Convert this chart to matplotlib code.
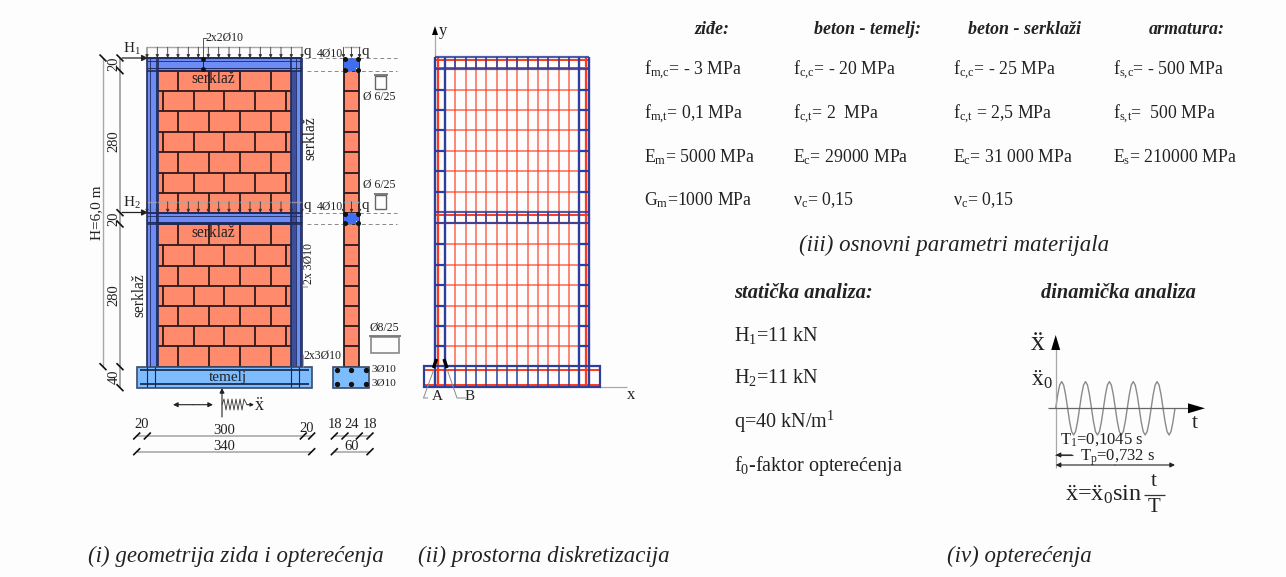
import matplotlib
matplotlib.use("Agg")
import matplotlib.pyplot as plt
from matplotlib.patches import Rectangle, Polygon

SERIF = ['Liberation Serif', 'DejaVu Serif']
plt.rcParams['font.family'] = SERIF
plt.rcParams['mathtext.fontset'] = 'custom'
plt.rcParams['mathtext.rm'] = 'Liberation Serif'
plt.rcParams['mathtext.default'] = 'rm'

# ---- material table ----
heads = ['ziđe:', 'beton - temelj:', 'beton - serklaži', 'armatura:']
head_x = [712, 867, 1024, 1187]
col_x = [644, 793, 953, 1113]
row_y = [70, 114, 157, 200]
col_masonry = ['f$_{m{,}c}$= - 3 MPa', 'f$_{m{,}t}$= 0,1 MPa', 'E$_{m}$= 5000 MPa', 'G$_{m}$=1000 MPa']
col_base = ['f$_{c{,}c}$= - 20 MPa', 'f$_{c{,}t}$= 2  MPa', 'E$_{c}$= 29000 MPa', 'ν$_{c}$= 0,15']
col_belt = ['f$_{c{,}c}$= - 25 MPa', 'f$_{c{,}t}$ = 2,5 MPa', 'E$_{c}$= 31 000 MPa', 'ν$_{c}$= 0,15']
col_steel = ['f$_{s{,}c}$= - 500 MPa', 'f$_{s{,}t}$=  500 MPa', 'E$_{s}$= 210000 MPa']
static_lines = ['H$_{1}$=11 kN', 'H$_{2}$=11 kN', 'q=40 kN/m$^{1}$', 'f$_{0}$-faktor opterećenja']
static_y = [335, 378, 422, 466]

# ---- wall geometry (picture scale) ----
wall_x = (147, 302)
brick_x = (158, 291)
belt_top = (58, 70.7)
belt_mid = (212.7, 224)
base_y = (366.7, 387.7)
base_x = (136.7, 311.7)
upper_rows = [70.7, 91, 111.3, 131.7, 152.3, 172.7, 192.7, 212.7]
lower_rows = [224, 245.3, 265.7, 285.7, 306, 326.3, 346.3, 366.7]
joints_a = [178.3, 209, 240, 271]
joints_b = [162.7, 193.7, 224.3, 255.3, 286.3]
load_x = [147, 157.3, 167.7, 178, 188.3, 198.3, 208.3, 218.7, 229, 239.7, 250, 260.3, 270.7, 281, 291.3, 302]

# ---- mesh geometry ----
mesh_v = [435, 445, 455.3, 465.7, 476, 486.3, 496.7, 507, 517.3, 527.7, 538, 548.3, 558.7, 569, 579, 589]
mesh_h_up = [90, 110.3, 130.3, 151, 171, 191.7]
mesh_h_lo = [244.3, 265, 285.3, 305.7, 325.7, 346]
mesh_base_x = (424.3, 599.7)

# ---- excitation curve (one value per 2 px) ----
wave_a = [0, .5, .87, 1, .87, .5, 0, -.5, -.87, -1, -.87, -.5] * 5 + [0]

BRICK, JOINT = '#ff8a6c', '#2b1a1a'
BELT, BASE = '#6d8cf6', '#7cbcff'
NAVY = '#2d3f9c'
RED = '#ff3a1c'
GREY = '#a9a9a9'
TXT = '#222222'

fig = plt.figure(figsize=(12.86, 5.77), dpi=100, facecolor='#fdfdfd')
ax = fig.add_axes([0, 0, 1, 1])
ax.set_xlim(0, 1286)
ax.set_ylim(577, 0)
ax.axis('off')


def T(x, y, s, size=12, ha='center', va='center', **kw):
    kw.setdefault('color', TXT)
    return ax.text(x, y, s, fontsize=size, ha=ha, va=va, **kw)


def R(x0, y0, x1, y1, fc='none', ec='none', lw=1.0, z=2, alpha=None):
    ax.add_patch(Rectangle((x0, y0), x1 - x0, y1 - y0, fc=fc, ec=ec, lw=lw, zorder=z, alpha=alpha))


def L(xs, ys, c=JOINT, lw=1.0, z=3, **kw):
    ax.plot(xs, ys, color=c, lw=lw, zorder=z, solid_capstyle='butt', **kw)


def arrow(x0, y0, x1, y1, c='#222222', ms=7, lw=0.8, z=5):
    ax.annotate('', xy=(x1, y1), xytext=(x0, y0), zorder=z,
                arrowprops=dict(arrowstyle='-|>', color=c, lw=lw, mutation_scale=ms,
                                shrinkA=0, shrinkB=0))


def head(pts, c='#000000', z=6):
    ax.add_patch(Polygon(pts, fc=c, ec='none', zorder=z))


def tick(x, y, s=3.5, back=False):
    d = -s if back else s
    L([x - s, x + s], [y + d, y - d], c='#111111', lw=1.2, z=6)


# ---------- (i) wall elevation ----------
R(wall_x[0], belt_top[0], wall_x[1], base_y[0], fc=BELT, z=1)
R(brick_x[0], belt_top[1], brick_x[1], belt_mid[0], fc=BRICK, z=2)
R(brick_x[0], belt_mid[1], brick_x[1], base_y[0], fc=BRICK, z=2)
R(291, 70.7, 296, 366.7, fc='#3b5096', z=2)
R(155.5, 70.7, 158, 366.7, fc='#4a60b8', z=2)
for rows in (upper_rows, lower_rows):
    for y in rows:
        L(brick_x, [y, y], lw=1.3)
    for i in range(len(rows) - 1):
        for j in (joints_a if i % 2 == 0 else joints_b):
            L([j, j], [rows[i], rows[i + 1]], lw=1.3)
for x, w in ((147, 1.2), (149.5, .6), (155.5, .6), (158, 1.2), (291, 1.2), (296, .6), (299.5, .6), (302, 1.2)):
    L([x, x], [58, 366.7], c='#1f2a5c', lw=w)
for y, w in ((58, 1.4), (61, .6), (68, .7), (70.7, 1.2), (212.7, 1.3), (216, .6), (222, .7), (224, 1.2)):
    L([147, 302], [y, y], c='#1f2a5c', lw=w, z=3)

R(base_x[0], base_y[0], base_x[1], base_y[1], fc=BASE, ec='#3a4a6a', lw=1.2, z=3)
for y in (370, 384):
    L([140, 309], [y, y], c='#16243f', lw=1.2, z=4)
for x in (147, 155, 291, 299):
    L([x, x], [366.7, 387], c='#16243f', lw=0.8, z=4)

# loads
for ytop, ybot, a in ((47.3, 58, 1.0), (201.7, 212.7, .7)):
    L(wall_x, [ytop, ytop], c=GREY, lw=1.0, z=6, alpha=a)
    for x in load_x:
        arrow(x, ytop, x, ybot, c='#333333', ms=4.5, lw=0.6, z=6)
L([203, 203, 207], [58, 38, 38], c='#555555', lw=0.7, z=6)
ax.plot([203, 203], [59, 69], 'o', ms=2.4, color='#111111', zorder=7)
L([203, 203], [58, 69], c='#222222', lw=0.7, z=6)
arrow(122, 58, 148, 58, ms=9, lw=0.9)
arrow(122, 212.5, 148, 212.5, ms=9, lw=0.9)
T(132, 49, 'H$_{1}$', 11)
T(132, 203, 'H$_{2}$', 11)
T(307, 52, 'q', 11)
T(307, 206, 'q', 11)
T(225, 38, '2x2Ø10', 8.5)
T(213, 79, 'serklaž', 11.2)
T(213, 233, 'serklaž', 11.2)
T(310.5, 138, 'serklaž', 11.2, rotation=90)
T(139, 295, 'serklaž', 11.2, rotation=90)
T(228, 377, 'temelj', 11)
T(309, 263, '2x 3Ø10', 8.5, rotation=90)
T(322, 356, '2x3Ø10', 8.5)
L([302, 303, 303, 308], [285, 287, 287, 287], c='#777777', lw=0.6, z=6)
L([303, 303], [354, 367], c='#999999', lw=0.6, z=6)

# dimensions left
L([103, 103], [58, 366.7], c=GREY, lw=1.0)
L([120, 120], [58, 387.7], c=GREY, lw=1.4)
for x, y in ((103, 58), (103, 366.7), (120, 58), (120, 70.7), (120, 212.7), (120, 224), (120, 366.7), (120, 387.7)):
    tick(x, y, back=True)
T(97, 213, 'H=6,0 m', 11, rotation=90)
T(114, 64, '20', 10.5, rotation=90)
T(114, 141, '280', 10.5, rotation=90)
T(114, 219, '20', 10.5, rotation=90)
T(114, 295, '280', 10.5, rotation=90)
T(114, 377, '40', 10.5, rotation=90)

# dimensions bottom
L(base_x, [436, 436], c=GREY, lw=1.2)
L(base_x, [451.7, 451.7], c=GREY, lw=1.2)
L([334.3, 370], [436, 436], c=GREY, lw=1.2)
L([334.3, 370], [451.7, 451.7], c=GREY, lw=1.2)
for x in (136.7, 147.3, 303.3, 311.7, 334.3, 345, 359.3, 370):
    tick(x, 436)
for x in (136.7, 311.7, 334.3, 370):
    tick(x, 451.7)
T(142, 425, '20', 10.5)
T(224, 431, '300', 10.5)
T(307, 428, '20', 10.5)
T(224, 446, '340', 10.5)
T(335, 425, '18', 10.5)
T(352, 425, '24', 10.5)
T(370, 425, '18', 10.5)
T(352, 446, '60', 10.5)

# excitation symbol
arrow(222, 417, 222, 388, ms=7)
arrow(193, 404.7, 173, 404.7, ms=7)
arrow(193, 404.7, 213, 404.7, ms=7)
spring_x = [222, 224, 226, 228, 230, 232, 234, 236, 238, 240, 242, 244, 247]
spring_y = [404.7, 399, 410, 399, 410, 399, 410, 399, 410, 399, 410, 399, 404.7]
L(spring_x, spring_y, c='#333333', lw=0.6)
arrow(247, 404.7, 254, 404.7, ms=5)
T(259, 405, 'ẍ', 13)

# ---------- section ----------
R(344, 58, 359.3, 366.7, fc=BRICK, z=1)
L([344, 344], [58, 366.7], lw=1.3)
L([359.3, 359.3], [58, 366.7], lw=1.3)
section_rows = upper_rows + lower_rows
for y in section_rows:
    L([344, 359.3], [y, y], lw=1.3)
for y0, y1 in (belt_top, belt_mid):
    R(344, y0, 359.3, y1, fc='white', z=2)
    ax.add_patch(Polygon([(347, y0), (356, y0), (356, y0 + 3), (359.3, y0 + 3), (359.3, y1 - 3), (356, y1 - 3),
                          (356, y1), (347, y1), (347, y1 - 3), (344, y1 - 3), (344, y0 + 3), (347, y0 + 3)],
                         fc='#3f6ff0', ec='none', zorder=3))
    ax.plot([345, 358.3, 345, 358.3], [y0 + 1, y0 + 1, y1 - 1, y1 - 1], 'o', ms=2.6, color='#111111', ls='none', zorder=5)
    L([305, 397], [y0, y0], c='#888888', lw=0.7, ls=(0, (4, 3)))
    L([307, 397], [y1, y1], c='#888888', lw=0.7, ls=(0, (4, 3)))
R(333.3, base_y[0], 369.3, base_y[1], fc=BASE, ec='#3a4a6a', lw=1.2, z=3)
ax.plot([337, 351.3, 366] * 2, [370] * 3 + [384] * 3, 'o', ms=2.8, color='#111111', ls='none', zorder=5)
for ytop, ybot in ((47.3, 58), (201.7, 212.7)):
    L([343.5, 359.5], [ytop, ytop], c=GREY, lw=1.0, z=6)
    for x in (343.5, 351.5, 359.5):
        arrow(x, ytop, x, ybot, c='#333333', ms=4.5, lw=0.6, z=6)
T(365, 52, 'q', 11)
T(365, 206, 'q', 11)
T(329.5, 54, '4Ø10', 8.5)
T(329.5, 207, '4Ø10', 8.5)
T(384, 370, '3Ø10', 8)
T(384, 383, '3Ø10', 8)
T(379, 97, 'Ø 6/25', 8.5)
T(379, 185, 'Ø 6/25', 8.5)
T(384, 328, 'Ø8/25', 8.5)
R(375, 76, 386, 89, ec='#666666', lw=1.0)
L([374, 388], [75, 75], c='#666666', lw=1.2)
R(375, 195, 386, 209, ec='#666666', lw=1.0)
L([374, 388], [194, 194], c='#666666', lw=1.2)
R(371, 337, 399, 353, ec='#888888', lw=1.2)
L([369, 401], [336, 336], c='#777777', lw=1.3)

# ---------- (ii) mesh ----------
for x in mesh_v[1:-1]:
    L([x, x], [57.3, 366], c=RED, lw=1.4, z=2, alpha=.6)
for x in (438, 586):
    L([x, x], [57.3, 387], c=RED, lw=1.6, z=2)
for y in mesh_h_up + mesh_h_lo:
    L([445, 579], [y, y], c=RED, lw=1.4, z=2, alpha=.6)
for y in (59.5, 68, 215, 223):
    L([436, 588], [y, y], c=RED, lw=1.4, z=3)
for x in (435, 445, 579, 589):
    L([x, x], [57.3, 387], c=NAVY, lw=1.7, z=4)
for y in (57.3, 69, 212.3, 223.3):
    L([435, 589], [y, y], c=NAVY, lw=1.6, z=4, alpha=.85)
for y in mesh_h_up + mesh_h_lo:
    L([435, 445], [y, y], c=NAVY, lw=1.6, z=4)
    L([579, 589], [y, y], c=NAVY, lw=1.6, z=4)
for x in mesh_v[2:-2]:
    L([x, x], [57.3, 69], c=NAVY, lw=1.4, z=4, alpha=.8)
    L([x, x], [212.3, 223.3], c=NAVY, lw=1.4, z=4, alpha=.8)
    L([x, x], [366, 387], c=NAVY, lw=1.4, z=4, alpha=.8)
R(mesh_base_x[0], 366, mesh_base_x[1], 386.7, ec=NAVY, lw=1.6, z=4)
for y in (370, 385):
    L(mesh_base_x, [y, y], c=RED, lw=1.4, z=3)
L([435, 435], [57, 30], c=GREY, lw=0.9)
head([(435, 26), (432, 35), (438, 35)])
T(443, 31, 'y', 12)
L([599, 627], [387, 387], c=GREY, lw=0.9)
T(631, 395, 'x', 12)
L([433.5, 436.5], [368, 359], c='#000000', lw=2.4, z=6)
L([444, 447], [359, 368], c='#000000', lw=2.4, z=6)
L([434, 423.5, 428], [369, 398, 398], c='#888888', lw=0.7, z=5)
L([447, 457, 466], [369, 398, 398], c='#888888', lw=0.7, z=5)
T(437.5, 397, 'A', 11)
T(470, 397, 'B', 11)

# ---------- material table text ----------
for x, s in zip(head_x, heads):
    T(x, 29, s, 13, style='italic', weight='bold')
for x, col in zip(col_x, (col_masonry, col_base, col_belt, col_steel)):
    for y, s in zip(row_y, col):
        T(x, y, s, 12.8, ha='left')
T(954, 245, '(iii) osnovni parametri materijala', 16.5, style='italic')
T(734, 293, 'statička analiza:', 14.8, ha='left', style='italic', weight='bold')
T(1118, 293, 'dinamička analiza', 14.7, style='italic', weight='bold')
for y, s in zip(static_y, static_lines):
    T(734, y, s, 14.5, ha='left')

# ---------- (iv) excitation plot ----------
x0, dx, y0, amp = 1055.7, 119.3 / 60, 408.3, 26.7
L([x0 + i * dx for i in range(len(wave_a))], [y0 - a * amp for a in wave_a], c='#8a8a8a', lw=1.0)
L([x0, x0], [468, 345], c=GREY, lw=0.9)
head([(x0, 335), (x0 - 4.5, 350), (x0 + 4.5, 350)])
L([1048, 1190], [y0, y0], c='#666666', lw=0.9)
head([(1205, y0), (1188, y0 - 5), (1188, y0 + 5)])
T(1038, 343, 'ẍ', 20)
T(1042, 380, 'ẍ$_{0}$', 17)
T(1195, 423, 't', 16)
T(1102, 440, 'T$_{1}$=0,1045 s', 12)
T(1118, 457.5, 'T$_{p}$=0,732 s', 12)
arrow(1072, 455, 1055.7, 455, ms=7)
L([1055, 1073], [455, 455], c='#444444', lw=0.8)
arrow(1115, 465, 1055.7, 465, ms=7)
arrow(1115, 465, 1175, 465, ms=7)
T(1065, 495, 'ẍ=ẍ$_{0}$sin', 17.5, ha='left')
T(1154, 482, 't', 15)
L([1144, 1165], [494.5, 494.5], c='#333333', lw=0.9)
T(1154, 507, 'T', 15)

# ---------- captions ----------
T(88, 556, '(i) geometrija zida i opterećenja', 16.5, ha='left', style='italic')
T(418, 556, '(ii) prostorna diskretizacija', 16.5, ha='left', style='italic')
T(947, 556, '(iv) opterećenja', 16.5, ha='left', style='italic')

fig.savefig('out.png', dpi=100, facecolor=fig.get_facecolor())
